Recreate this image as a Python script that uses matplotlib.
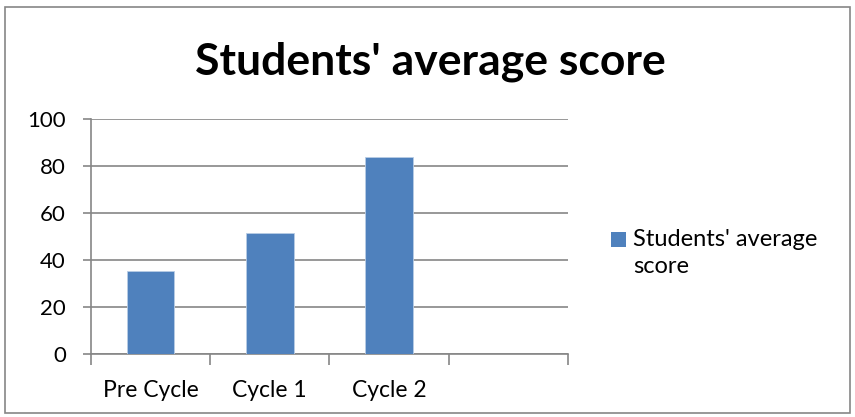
import numpy as np
import matplotlib.pyplot as plt
from matplotlib.patches import Rectangle

# data
categories = ["Pre Cycle", "Cycle 1", "Cycle 2"]
scores = [35.4, 51.5, 84.0]
n_slots = 4  # excel left an empty fourth slot
yticks = [0, 20, 40, 60, 80, 100]
series_label = "Students' average\nscore"
title = "Students' average score"

bar_color = '#4F81BD'
grid_color = '#868686'

plt.rcParams['font.family'] = ['Lato', 'DejaVu Sans']

W, H = 855, 417
fig = plt.figure(figsize=(W / 100, H / 100), dpi=100)
ax = fig.add_axes([91 / W, 1 - 354 / H, (567.7 - 91) / W, (354 - 119) / H])

x = np.arange(len(categories))
ax.bar(x, scores, width=0.4, color=bar_color, edgecolor='#B9CDE5', lw=0.6, zorder=3)

ax.set_xlim(-0.5, n_slots - 0.5)
ax.set_ylim(0, 100)
ax.set_yticks(yticks)
ax.set_yticklabels([str(v) for v in yticks], fontsize=16)
ax.yaxis.grid(True, color=grid_color, lw=1.2, zorder=0)

# category boundaries as ticks, labels centred in slots
ax.set_xticks(np.arange(n_slots + 1) - 0.5)
ax.set_xticklabels([''] * (n_slots + 1))
ax.set_xticks(x, minor=True)
ax.set_xticklabels(categories, minor=True, fontsize=16.5)
ax.tick_params(axis='x', which='major', length=8, color=grid_color, width=1.2)
ax.tick_params(axis='x', which='minor', length=0, pad=18.5)
ax.tick_params(axis='y', length=6, color=grid_color, width=1.2, pad=12)

for s in ['top', 'right']:
    ax.spines[s].set_visible(False)
for s in ['left', 'bottom']:
    ax.spines[s].set_color(grid_color)
    ax.spines[s].set_linewidth(1.2)

fig.text(430 / W, 1 - 74 / H, title, ha='center', va='baseline',
         fontsize=32, fontweight='bold')

# legend: key square aligned with first line, like excel
fig.patches.append(Rectangle((611 / W, 1 - 247 / H), 15 / W, 15 / H, transform=fig.transFigure,
                             facecolor=bar_color, edgecolor='none'))
fig.text(633 / W, 1 - 229 / H, series_label, ha='left', va='top', fontsize=17,
         linespacing=1.35)

# outer chart frame
fig.patches.append(Rectangle((5 / W, 4 / H), 845 / W, 406 / H, transform=fig.transFigure,
                             fill=False, edgecolor=grid_color, lw=1.2))

fig.savefig('out.png', dpi=100)
